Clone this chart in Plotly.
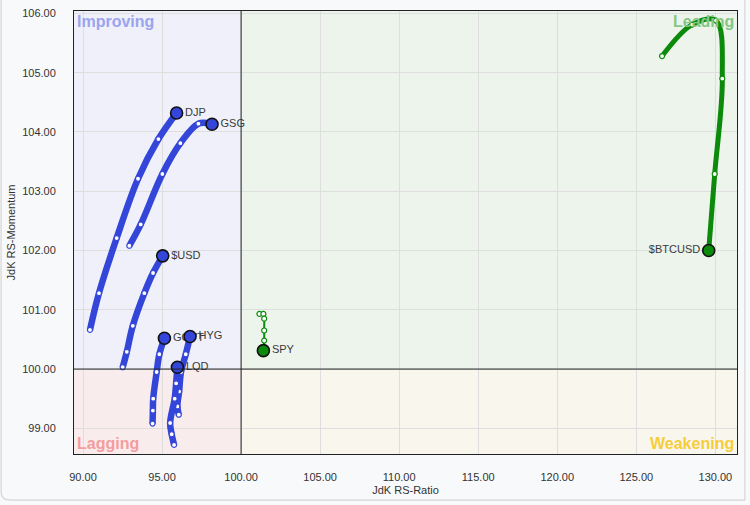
import plotly.graph_objects as go

# ---- data (tail -> head) ----
symbols = ["DJP", "GSG", "$USD", "GOVT", "HYG", "LQD", "SPY", "$BTCUSD"]
rs_ratio = {
    "DJP":     [90.44, 91.01, 92.13, 93.48, 94.77, 95.92],
    "GSG":     [92.93, 93.65, 95.02, 96.16, 97.30, 98.16],
    "$USD":    [92.51, 92.77, 93.15, 93.88, 94.43, 95.04],
    "GOVT":    [94.40, 94.42, 94.44, 94.66, 94.83, 95.15],
    "HYG":     [96.06, 95.97, 96.08, 96.20, 96.50, 96.77],
    "LQD":     [95.76, 95.61, 95.51, 95.80, 95.89, 95.97],
    "SPY":     [101.16, 101.41, 101.46, 101.46, 101.46, 101.41],
    "$BTCUSD": [126.63, 128.53, 130.04, 130.44, 129.96, 129.58],
}
rs_momentum = {
    "DJP":     [100.66, 101.28, 102.21, 103.21, 103.88, 104.32],
    "GSG":     [102.08, 102.44, 103.29, 103.81, 104.14, 104.13],
    "$USD":    [100.03, 100.29, 100.73, 101.28, 101.62, 101.91],
    "GOVT":    [99.08, 99.30, 99.50, 99.95, 100.25, 100.52],
    "HYG":     [99.23, 99.37, 99.62, 99.95, 100.25, 100.55],
    "LQD":     [98.72, 98.90, 99.09, 99.50, 99.76, 100.03],
    "SPY":     [100.93, 100.93, 100.85, 100.65, 100.48, 100.31],
    "$BTCUSD": [105.28, 105.81, 105.88, 104.90, 103.29, 102.00],
}
x_ticks = [90, 95, 100, 105, 110, 115, 120, 125, 130]
y_ticks = [99, 100, 101, 102, 103, 104, 105, 106]
quadrants = ["Improving", "Leading", "Lagging", "Weakening"]

X_RANGE = [89.43, 131.37]
Y_RANGE = [98.567, 106.04]

BLUE = "#3446d9"
GREEN = "#0b8a0b"
style = {
    "DJP": (BLUE, 6.5), "GSG": (BLUE, 6.5), "$USD": (BLUE, 6.5), "GOVT": (BLUE, 6.5),
    "HYG": (BLUE, 6.5), "LQD": (BLUE, 6.5), "SPY": (GREEN, 2), "$BTCUSD": (GREEN, 5),
}

fig = go.Figure()

# quadrant backgrounds
bg = [
    (X_RANGE[0], 100, 100, Y_RANGE[1], "#eff0f9"),
    (100, X_RANGE[1], 100, Y_RANGE[1], "#edf4ec"),
    (X_RANGE[0], 100, Y_RANGE[0], 100, "#f9ecec"),
    (100, X_RANGE[1], Y_RANGE[0], 100, "#f9f6ee"),
]
for x0, x1, y0, y1, c in bg:
    fig.add_shape(type="rect", x0=x0, x1=x1, y0=y0, y1=y1, fillcolor=c,
                  line=dict(width=0), layer="below")

# lines through center
fig.add_shape(type="line", x0=100, x1=100, y0=Y_RANGE[0], y1=Y_RANGE[1],
              line=dict(color="#222", width=1))
fig.add_shape(type="line", x0=X_RANGE[0], x1=X_RANGE[1], y0=100, y1=100,
              line=dict(color="#222", width=1))

for s in symbols:
    col, lw = style[s]
    xs, ys = rs_ratio[s], rs_momentum[s]
    n = len(xs)
    sizes = [5] * (n - 1) + [12]
    fills = ["white"] * (n - 1) + [col]
    edges = [col] * (n - 1) + ["#111"]
    ewidth = [1.2] * (n - 1) + [1.6]
    fig.add_trace(go.Scatter(
        x=xs, y=ys, mode="lines",
        line=dict(color=col, width=lw, shape="spline", smoothing=1.0),
        hoverinfo="skip", showlegend=False))
    fig.add_trace(go.Scatter(
        x=xs, y=ys, mode="markers+text",
        marker=dict(size=sizes, color=fills, opacity=1,
                    line=dict(color=edges, width=ewidth)),
        text=[""] * (n - 1) + [s],
        textposition="middle left" if s == "$BTCUSD" else "middle right",
        textfont=dict(family="Arial, Liberation Sans, sans-serif", size=11, color="#3a3a3a"),
        name=s, showlegend=False))

qlab = [
    ("Improving", X_RANGE[0], Y_RANGE[1], "left", "top", "#9ba4ee"),
    ("Leading", X_RANGE[1], Y_RANGE[1], "right", "top", "#84c784"),
    ("Lagging", X_RANGE[0], Y_RANGE[0], "left", "bottom", "#f49c9e"),
    ("Weakening", X_RANGE[1], Y_RANGE[0], "right", "bottom", "#f6cd3a"),
]
for t, x, y, xa, ya, c in qlab:
    fig.add_annotation(x=x, y=y, text="<b>%s</b>" % t, showarrow=False,
                       xanchor=xa, yanchor=ya, xshift=1 if xa == "left" else -1,
                       font=dict(family="Arial, Liberation Sans, sans-serif", size=16, color=c))

fig.update_layout(
    width=750, height=505,
    margin=dict(l=74, r=13, t=11, b=51),
    paper_bgcolor="#f8f9fa", plot_bgcolor="#f4f4f4",
    font=dict(family="Arial, Liberation Sans, sans-serif", size=11, color="#333"),
    xaxis=dict(range=X_RANGE, tickvals=x_ticks, ticktext=["%.2f" % v for v in x_ticks],
               showgrid=True, gridcolor="#dedede", gridwidth=1, zeroline=False,
               showline=True, linecolor="#222", linewidth=1, mirror=True,
               ticks="", ticklabelstandoff=13, automargin=False,
               title=dict(text="JdK RS-Ratio", standoff=4, font=dict(size=11))),
    yaxis=dict(range=Y_RANGE, tickvals=y_ticks, ticktext=["%.2f" % v for v in y_ticks],
               showgrid=True, gridcolor="#dedede", gridwidth=1, zeroline=False,
               showline=True, linecolor="#222", linewidth=1, mirror=True,
               ticks="", ticklabelstandoff=15, automargin=False,
               title=dict(text="JdK RS-Momentum", standoff=4, font=dict(size=11))),
)

# outer rounded frame
fig.add_shape(type="path", xref="paper", yref="paper",
              path="M -0.11,1.05 L -0.11,-0.085 Q -0.11,-0.104 -0.095,-0.104 L 1.0118,-0.104 L 1.0118,1.05",
              line=dict(color="#d6d6d6", width=1.2), layer="below")

fig.write_html(
    "out.html",
    config={"displayModeBar": False},
    post_script="document.body.style.margin='0';document.body.style.background='#f8f9fa';",
)
